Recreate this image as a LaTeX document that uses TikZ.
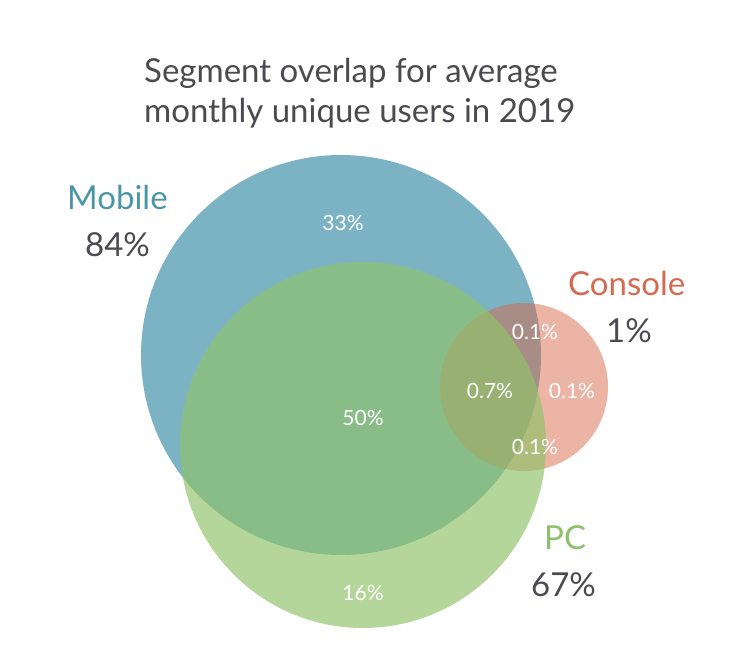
\documentclass[tikz,border=0pt]{standalone}
\usepackage{fontspec}
\setmainfont{Lato}
\definecolor{mobfill}{RGB}{123,179,197}
\definecolor{pcfill}{RGB}{145,194,105}
\definecolor{confill}{RGB}{214,102,70}
\definecolor{moblab}{RGB}{74,149,168}
\definecolor{conlab}{RGB}{212,106,80}
\definecolor{pclab}{RGB}{141,192,109}
\definecolor{darktext}{RGB}{74,74,80}
\tikzset{
  title/.style={anchor=base west, inner sep=0pt, text=darktext, font=\fontsize{33}{38}\selectfont},
  setname/.style={anchor=base west, inner sep=0pt, font=\fontsize{33}{38}\selectfont},
  setpct/.style={anchor=base west, inner sep=0pt, text=darktext, font=\fontsize{33}{38}\selectfont},
  inlab/.style={anchor=center, inner sep=0pt, text=white, font=\fontsize{21}{24}\selectfont},
}
\begin{document}
\begin{tikzpicture}[x=1pt,y=-1pt]
\useasboundingbox (0,0) rectangle (750,661);
% circles
\fill[mobfill] (341,355) circle[radius=200];
\fill[confill, fill opacity=0.49] (524,387) circle[radius=84];
\fill[pcfill, fill opacity=0.67] (363,445) circle[radius=183];
% title
\node[title] (t1) at (144,83) {Segment overlap for average};
\node[title] (t2) at (144,122) {monthly unique users in 2019};
% set labels
\node[setname, text=moblab] (mobname) at (67,209) {Mobile};
\node[setpct] (mobpct) at (85,256) {84\%};
\node[setname, text=conlab] (conname) at (568,295) {Console};
\node[setpct] (conpct) at (606,342) {1\%};
\node[setname, text=pclab] (pcname) at (544,549) {PC};
\node[setpct] (pcpct) at (531,596) {67\%};
% region labels
\node[inlab] (r33) at (343,223) {33\%};
\node[inlab] (r50) at (363,418) {50\%};
\node[inlab] (r16) at (363,593) {16\%};
\node[inlab] (mc) at (535,332) {0.1\%};
\node[inlab] (all) at (490,391) {0.7\%};
\node[inlab] (con) at (572,391) {0.1\%};
\node[inlab] (pcc) at (535,447) {0.1\%};
\end{tikzpicture}
\end{document}
